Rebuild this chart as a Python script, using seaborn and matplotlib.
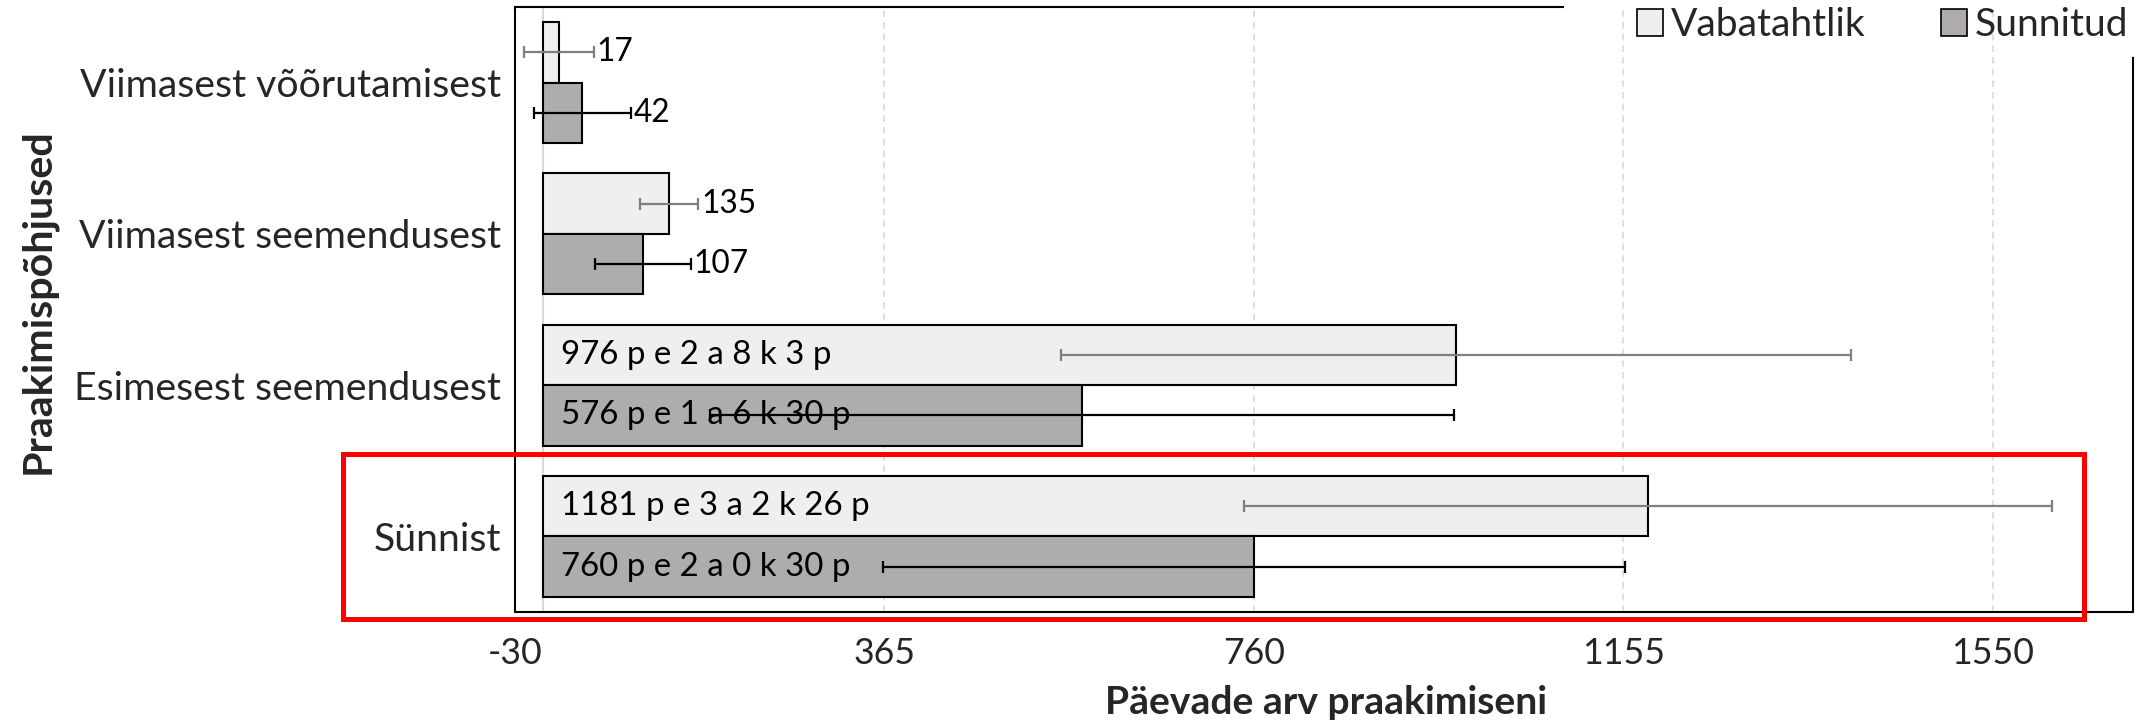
import numpy as np
import pandas as pd
import matplotlib
matplotlib.use("Agg")
import matplotlib.pyplot as plt
import seaborn as sns
from matplotlib.patches import Patch, Rectangle

# ---------------- data ----------------
categories = ["Viimasest võõrutamisest", "Viimasest seemendusest",
              "Esimesest seemendusest", "Sünnist"]
series_names = ["Vabatahtlik", "Sunnitud"]
vaba_mean = [17, 135, 976, 1181]
sunn_mean = [42, 107, 576, 760]
vaba_sd = [37, 31, 422, 432]
sunn_sd = [52, 51, 398, 397]
vaba_labels = ["17", "135", "976 p e 2 a 8 k 3 p", "1181 p e 3 a 2 k 26 p"]
sunn_labels = ["42", "107", "576 p e 1 a 6 k 30 p", "760 p e 2 a 0 k 30 p"]
label_inside = [False, False, True, True]
x_ticks = [-30, 365, 760, 1155, 1550]
x_label = "Päevade arv praakimiseni"
y_label = "Praakimispõhjused"

LIGHT = "#EFEFEF"
DARK = "#AFABAB"

sns.set_theme(style="white")
plt.rcParams["font.family"] = ["Lato", "DejaVu Sans"]

W, H, DPI = 2153, 722, 100
fig = plt.figure(figsize=(W / DPI, H / DPI), dpi=DPI)
renderer = fig.canvas.get_renderer()


def fit(s, px, weight="normal"):
    t = fig.text(0, 0, s, fontsize=20, fontweight=weight)
    w = t.get_window_extent(renderer).width
    t.remove()
    return 20 * px / w


fs_cat = fit("Viimasest võõrutamisest", 421)
fs_tick = fit("1155", 83)
fs_in = fit("1181 p e 3 a 2 k 26 p", 309)
fs_small = fit("135", 55)
fs_leg = fit("Vabatahtlik", 195)
fs_xl = fit(x_label, 441, "bold")
fs_yl = fit(y_label, 346, "bold")

ax = fig.add_axes([515 / W, 1 - 612 / H, (2133 - 515) / W, (612 - 7) / H])

df = pd.DataFrame({
    "kat": categories * 2,
    "grupp": [n for n in series_names for _ in categories],
    "paevad": vaba_mean + sunn_mean,
})

sns.barplot(data=df, x="paevad", y="kat", hue="grupp", hue_order=series_names,
            order=categories, palette=[LIGHT, DARK], orient="h", errorbar=None,
            width=0.8, edgecolor="black", linewidth=1.5, legend=False, ax=ax,
            zorder=3)

ypos = np.arange(len(categories))
ax.errorbar(vaba_mean, ypos - 0.2, xerr=vaba_sd, fmt="none", ecolor="#7F7F7F",
            elinewidth=1.6, capsize=4.5, capthick=1.6, zorder=6)
ax.errorbar(sunn_mean, ypos + 0.2, xerr=sunn_sd, fmt="none", ecolor="black",
            elinewidth=1.6, capsize=4.5, capthick=1.6, zorder=6)

for means, sds, labels, off in [(vaba_mean, vaba_sd, vaba_labels, -0.2),
                                (sunn_mean, sunn_sd, sunn_labels, 0.2)]:
    for i, (m, s, lab) in enumerate(zip(means, sds, labels)):
        if label_inside[i]:
            ax.annotate(lab, xy=(0, i + off), xytext=(18, 0),
                        textcoords="offset pixels", ha="left", va="center",
                        fontsize=fs_in, color="black", zorder=5)
        else:
            ax.annotate(lab, xy=(m + s, i + off), xytext=(3, 0),
                        textcoords="offset pixels", ha="left", va="center",
                        fontsize=fs_small, color="black", zorder=5)

ax.set_xlim(-30, 1700)
ax.set_ylim(3.5, -0.5)
ax.set_xticks(x_ticks)
ax.set_xticklabels([str(v) for v in x_ticks])
ax.set_axisbelow(True)
ax.xaxis.grid(True, linestyle=(0, (4, 3)), color="#D9D9D9", linewidth=1.2)
ax.yaxis.grid(False)
ax.axvline(0, color="#D9D9D9", linewidth=1.5, zorder=1)

ax.tick_params(axis="x", direction="inout", length=10, width=1.5,
               color="black", labelsize=fs_tick, pad=13)
ax.tick_params(axis="y", length=0, labelsize=fs_cat, pad=10)
ax.set_xlabel(x_label, fontsize=fs_xl, fontweight="bold")
ax.set_ylabel(y_label, fontsize=fs_yl, fontweight="bold")
ax.xaxis.set_label_coords(0.501, -0.150)
ax.xaxis.label.set_va("center")
ax.yaxis.set_label_coords(-0.2948, 0.514)
ax.yaxis.label.set_va("center")

for sp in ax.spines.values():
    sp.set_visible(True)
    sp.set_color("black")
    sp.set_linewidth(1.5)
ax.spines["top"].set_bounds(-30, 1091)
ax.spines["right"].set_bounds(-0.16, 3.5)

handles = [Patch(facecolor=LIGHT, edgecolor="black", linewidth=1.2),
           Patch(facecolor=DARK, edgecolor="black", linewidth=1.2)]
fs_leg_px = fs_leg * DPI / 72
fig.legend(handles, series_names, loc="center left",
           bbox_to_anchor=(1637 / W, 1 - 25 / H), ncol=2, frameon=False,
           fontsize=fs_leg, borderpad=0, borderaxespad=0,
           handlelength=26 / fs_leg_px, handleheight=26 / fs_leg_px,
           handletextpad=0.2, columnspacing=75 / fs_leg_px)

fig.add_artist(Rectangle((343 / W, 1 - 619 / H), (2084 - 343) / W, (619 - 454) / H,
                         transform=fig.transFigure, fill=False,
                         edgecolor="#FF0000", linewidth=3.6, zorder=10))

fig.savefig("out.png", dpi=DPI)
